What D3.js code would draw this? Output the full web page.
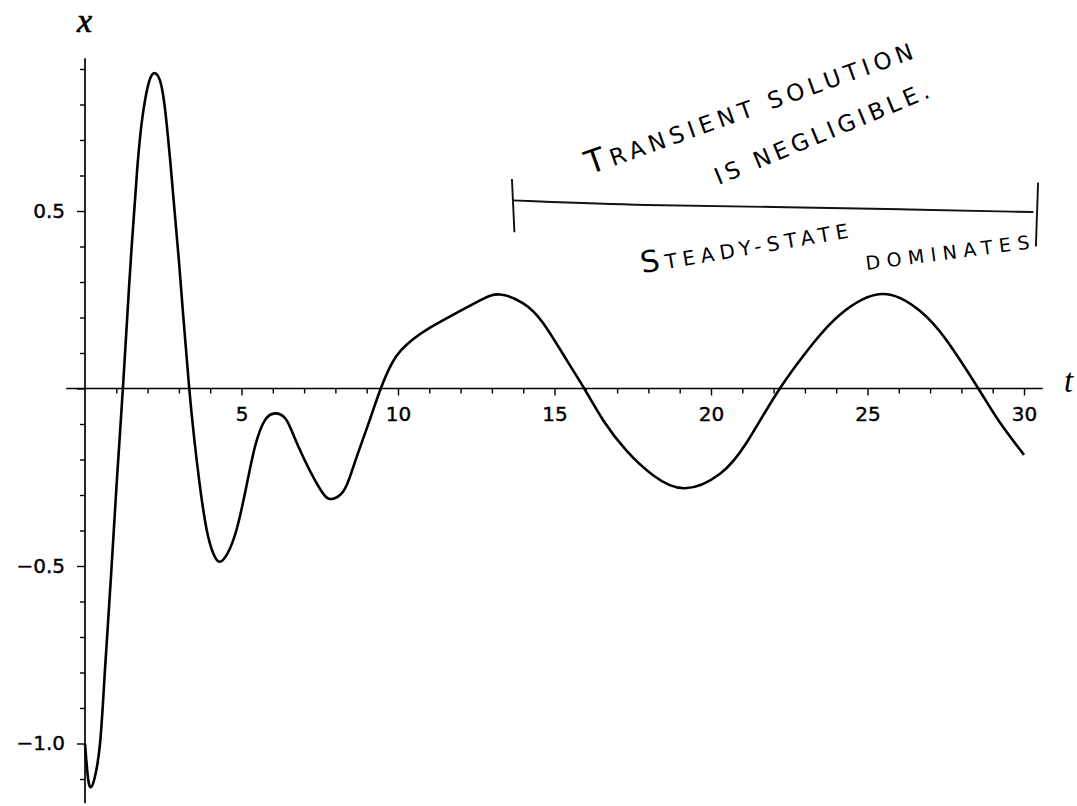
<!DOCTYPE html>
<html>
<head>
<meta charset="utf-8">
<script src="https://cdn.jsdelivr.net/npm/d3@7"></script>
<style>
  body { margin: 0; background: #fff; }
  svg { display: block; }
  .note { font-family: "DejaVu Sans", sans-serif; fill: #000; }
</style>
</head>
<body>
<div id="chart"></div>
<script>
// Chart Setup
const width = 1077, height = 806;

// Data: curve
const tValues = [0, 0.1, 0.19, 0.3, 0.48, 0.64, 0.83, 1.01, 1.21, 1.41, 1.67, 1.86, 2.05, 2.24, 2.42, 2.56, 2.72, 3.0, 3.33,
  3.65, 3.89, 4.1, 4.3, 4.55, 4.85, 5.17, 5.43, 5.75, 6.1, 6.44, 6.82, 7.51, 7.9, 8.25, 8.5, 8.73, 9.1, 9.45, 9.8,
  10.1, 10.5, 11.0, 11.77, 12.62, 13.26, 14.0, 14.64, 15.39, 15.95, 16.56, 17.3, 18.16, 19.17, 20.29, 21.14, 22.2,
  23.27, 24.12, 25.45, 26.68, 27.53, 28.54, 29.23, 30.0];
const xValues = [-1.0, -1.1, -1.123, -1.1, -1.0, -0.79, -0.53, -0.27, 0.0, 0.29, 0.62, 0.78, 0.865, 0.888, 0.86, 0.785, 0.644, 0.36, 0.0,
  -0.26, -0.399, -0.465, -0.488, -0.465, -0.395, -0.27, -0.164, -0.089, -0.07, -0.089, -0.164, -0.283, -0.311, -0.29, -0.24, -0.18, -0.088, 0.0, 0.07,
  0.108, 0.14, 0.17, 0.208, 0.248, 0.265, 0.24, 0.184, 0.08, 0.0, -0.09, -0.175, -0.245, -0.281, -0.24, -0.152, 0.0,
  0.128, 0.208, 0.266, 0.218, 0.135, 0.0, -0.096, -0.187];

// Ticks
const tTicks = d3.range(1, 31);
const xTicks = d3.range(-11, 10).map(d => d / 10);
const tLabelled = [5, 10, 15, 20, 25, 30];
const xLabelled = [-1.0, -0.5, 0.5];

// Axis extents (data units)
const tExtent = [-0.6, 30.6];
const xExtent = [-1.168, 0.93];

// Scales
const xScale = d3.scaleLinear().domain([0, 30]).range([85, 1024]);
const yScale = d3.scaleLinear().domain([-1, 0.5]).range([743.5, 211]);

const svg = d3.select("#chart").append("svg")
  .attr("width", width)
  .attr("height", height);

// Axes lines
svg.append("line")
  .attr("x1", xScale(tExtent[0])).attr("x2", xScale(tExtent[1]))
  .attr("y1", yScale(0)).attr("y2", yScale(0))
  .attr("stroke", "#000").attr("stroke-width", 1.7);

svg.append("line")
  .attr("x1", xScale(0)).attr("x2", xScale(0))
  .attr("y1", yScale(xExtent[0])).attr("y2", yScale(xExtent[1]))
  .attr("stroke", "#000").attr("stroke-width", 1.7);

// Bottom ticks
const xAxis = d3.axisBottom(xScale)
  .tickValues(tTicks)
  .tickSize(5)
  .tickPadding(13)
  .tickFormat(d => tLabelled.includes(d) ? d : "");

const gx = svg.append("g")
  .attr("transform", `translate(0,${yScale(0)})`)
  .call(xAxis);
gx.select(".domain").remove();
gx.selectAll(".tick line").attr("stroke-width", 1.4)
  .attr("y2", d => tLabelled.includes(d) ? 7 : 5);

// Left ticks
const yAxis = d3.axisLeft(yScale)
  .tickValues(xTicks)
  .tickSize(5)
  .tickPadding(15)
  .tickFormat(d => xLabelled.some(v => Math.abs(v - d) < 1e-9) ? d3.format(".1f")(d) : "");

const gy = svg.append("g")
  .attr("transform", `translate(${xScale(0)},0)`)
  .call(yAxis);
gy.select(".domain").remove();
gy.selectAll(".tick line").attr("stroke-width", 1.4)
  .attr("x2", d => Math.abs(d * 2 - Math.round(d * 2)) < 1e-9 ? -8 : -5);

[gx, gy].forEach(g => g.selectAll(".tick text")
  .attr("font-family", "'DejaVu Sans', sans-serif")
  .attr("font-size", 20)
  .attr("fill", "#000")
  .attr("stroke", "#000")
  .attr("stroke-width", 0.4));

// Axis labels
svg.append("text")
  .attr("x", 77).attr("y", 32)
  .attr("font-family", "'Liberation Serif', serif")
  .attr("font-style", "italic")
  .attr("font-size", 34)
  .attr("stroke", "#000").attr("stroke-width", 0.7)
  .text("x");

svg.append("text")
  .attr("x", 1064).attr("y", 392)
  .attr("font-family", "'Liberation Serif', serif")
  .attr("font-style", "italic")
  .attr("font-size", 33)
  .text("t");

// Curve
const points = tValues.map((t, i) => ({ t, x: xValues[i] }));
const line = d3.line()
  .x(d => xScale(d.t))
  .y(d => yScale(d.x))
  .curve(d3.curveNatural);

svg.append("path")
  .datum(points)
  .attr("d", line)
  .attr("fill", "none")
  .attr("stroke", "#000")
  .attr("stroke-width", 2.6)
  .attr("stroke-linejoin", "round");

// Annotation: bracket
const bracket = svg.append("g")
  .attr("stroke", "#111")
  .attr("stroke-width", 1.9)
  .attr("fill", "none");

bracket.append("path")
  .attr("d", d3.line().curve(d3.curveBasis)([
    [xScale(13.64), yScale(0.53)], [xScale(18), yScale(0.515)], [xScale(22), yScale(0.512)],
    [xScale(26), yScale(0.505)], [xScale(30.3), yScale(0.497)]
  ]));
bracket.append("line")
  .attr("x1", xScale(13.64)).attr("x2", xScale(13.72))
  .attr("y1", yScale(0.59)).attr("y2", yScale(0.44));
bracket.append("line")
  .attr("x1", xScale(30.45)).attr("x2", xScale(30.38))
  .attr("y1", yScale(0.58)).attr("y2", yScale(0.40));

// Annotation: text
function note(parts, t, x, angle, length) {
  const txt = svg.append("text")
    .attr("class", "note")
    .attr("transform", `translate(${xScale(t)},${yScale(x)}) rotate(${angle})`)
    .attr("textLength", length)
    .attr("lengthAdjust", "spacing");
  parts.forEach(([s, size]) => txt.append("tspan").attr("font-size", size).text(s));
}

note([["T", 32], ["RANSIENT SOLUTION", 23]], 16.13, 0.603, -19.7, 345);
note([["IS NEGLIGIBLE.", 23]], 20.24, 0.573, -22.5, 230);
note([["S", 30], ["TEADY-STATE", 20]], 17.8, 0.325, -9.7, 210);
note([["DOMINATES", 19]], 24.97, 0.334, -7.4, 165);
</script>
</body>
</html>
